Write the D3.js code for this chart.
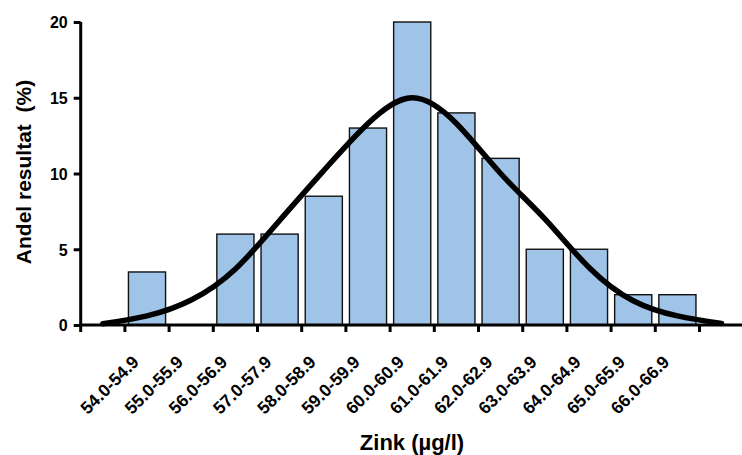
<!DOCTYPE html>
<html>
<head>
<meta charset="utf-8">
<script src="https://cdn.jsdelivr.net/npm/d3@7"></script>
<style>
html,body{margin:0;padding:0;background:#fff;}
svg{display:block;}
text{font-family:"Liberation Sans",Arial,sans-serif;font-weight:bold;fill:#000;white-space:pre;}
</style>
</head>
<body>
<script>
// Data
const categories = ["", "54.0-54.9", "55.0-55.9", "56.0-56.9", "57.0-57.9", "58.0-58.9", "59.0-59.9",
  "60.0-60.9", "61.0-61.9", "62.0-62.9", "63.0-63.9", "64.0-64.9", "65.0-65.9", "66.0-66.9", " "];
const shares = [0, 3.5, 0, 6, 6, 8.5, 13, 20, 14, 11, 5, 5, 2, 2, 0];
const normalCurve = [0.08, 0.6, 1.65, 3.7, 6.9, 10.2, 13.3, 15, 13.3, 10.0, 7.0, 3.8, 1.6, 0.6, 0.1];
const yTicks = [0, 5, 10, 15, 20];
const xTitle = "Zink (µg/l)";
const yTitle = "Andel resultat  (%)";

const W = 742, H = 455;
const svg = d3.select("body").append("svg").attr("width", W).attr("height", H);

const x = d3.scaleBand().domain(categories).range([80.7, 743.7]).paddingInner(0.16).paddingOuter(0.08);
const xEdge = d3.scaleLinear().domain([0, categories.length]).range([80.7, 743.7]);
const y = d3.scaleLinear().domain([0, 20]).range([325, 22]);

// bars
svg.append("g").selectAll("rect").data(shares.map((v, i) => ({c: categories[i], v})).filter(d => d.v > 0))
  .enter().append("rect")
  .attr("x", d => x(d.c))
  .attr("width", x.bandwidth())
  .attr("y", d => y(d.v))
  .attr("height", d => y(0) - y(d.v))
  .attr("fill", "#9fc4e7")
  .attr("stroke", "#111")
  .attr("stroke-width", 1.4);

// curve
const line = d3.line()
  .x((d, i) => x(categories[i]) + x.bandwidth() / 2)
  .y(d => y(d))
  .curve(d3.curveNatural);
svg.append("path").datum(normalCurve).attr("d", line)
  .attr("fill", "none").attr("stroke", "#000").attr("stroke-width", 5.5).attr("stroke-linecap", "round");

// y axis
const yAxis = d3.axisLeft(y).tickValues(yTicks).tickSize(7).tickPadding(6).tickFormat(d3.format("d"));
const gy = svg.append("g").attr("transform", "translate(80.7,0)").call(yAxis);
gy.select(".domain").attr("d", `M0,${y(20)}V${y(0)}`).attr("stroke", "#000").attr("stroke-width", 3);
gy.selectAll(".tick line").attr("stroke", "#000").attr("stroke-width", 3);
gy.selectAll(".tick text").style("font-size", "16px").style("font-family", "Liberation Sans, Arial, sans-serif").style("font-weight", "bold").attr("dy", "0.36em");

// x axis line and ticks
const edges = d3.range(categories.length + 1);
const gx = svg.append("g");
gx.append("line").attr("x1", 80.7 - 1.5).attr("x2", 744).attr("y1", y(0)).attr("y2", y(0))
  .attr("stroke", "#000").attr("stroke-width", 3);
gx.selectAll("line.tk").data(edges).enter().append("line").attr("class", "tk")
  .attr("x1", d => xEdge(d)).attr("x2", d => xEdge(d))
  .attr("y1", y(0)).attr("y2", y(0) + 7)
  .attr("stroke", "#000").attr("stroke-width", 3);

// x labels
gx.selectAll("text.lab").data(categories.filter(c => c.trim() !== "")).enter().append("text").attr("class", "lab")
  .attr("transform", d => `translate(${x(d) + x.bandwidth() / 2 - 7},${y(0) + 38}) rotate(-45)`)
  .attr("text-anchor", "end")
  .style("font-size", "17.5px")
  .text(d => d);

// titles
svg.append("text").attr("x", 412).attr("y", 450).attr("text-anchor", "middle").style("font-size", "22px").text(xTitle);
svg.append("text").attr("transform", "translate(31,172) rotate(-90)").attr("text-anchor", "middle").style("font-size", "21px").text(yTitle);
</script>
</body>
</html>
